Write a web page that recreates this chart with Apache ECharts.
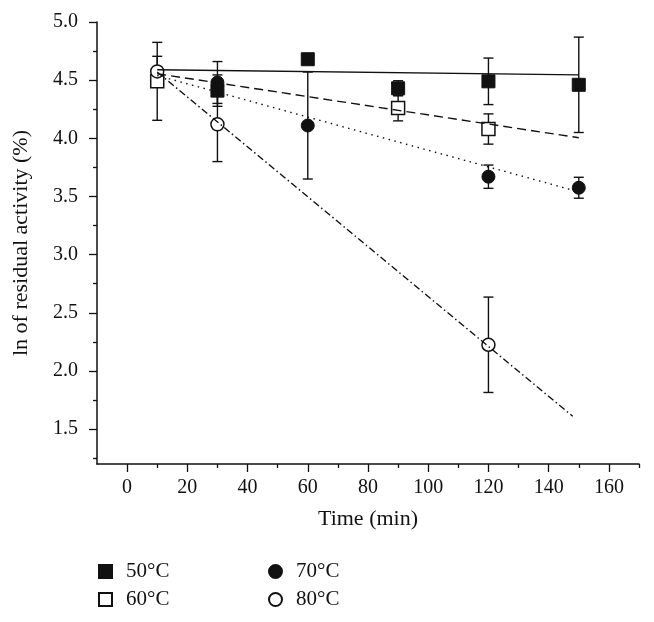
<!DOCTYPE html>
<html>
<head>
<meta charset="utf-8">
<script src="https://cdn.jsdelivr.net/npm/echarts@6/dist/echarts.min.js"></script>
<style>
html,body{margin:0;padding:0;background:#fff;}
#chart{width:654px;height:622px;}
</style>
</head>
<body>
<div id="chart"></div>
<script>
// ---- data ----
const seriesNames = ['50°C', '60°C', '70°C', '80°C'];
// [time, ln residual activity, error]
const data50 = [[30, 4.41, 0.135], [60, 4.68, 0], [90, 4.43, 0.065], [120, 4.49, 0.20], [150, 4.46, 0.41]];
const data60 = [[10, 4.49, 0.335], [90, 4.26, 0.11], [120, 4.08, 0.13]];
const data70 = [[30, 4.48, 0.18], [60, 4.11, 0.46], [120, 3.67, 0.10], [150, 3.575, 0.09]];
const data80 = [[10, 4.575, 0.13], [30, 4.12, 0.32], [120, 2.225, 0.41]];
// linear fit end points
const fit50 = [[10, 4.59], [150, 4.545]];
const fit60 = [[10, 4.555], [150, 4.005]];
const fit70 = [[10, 4.54], [150, 3.54]];
const fit80 = [[10, 4.57], [148, 1.61]];
// ticks
const xMajorTicks = [0, 20, 40, 60, 80, 100, 120, 140, 160];
const xMinorTicks = [10, 30, 50, 70, 90, 110, 130, 150, 170];
const yMajorTicks = [1.5, 2.0, 2.5, 3.0, 3.5, 4.0, 4.5, 5.0];
const yMinorTicks = [1.25, 1.75, 2.25, 2.75, 3.25, 3.75, 4.25, 4.75];

const FONT = 'Liberation Serif';
const INK = '#111111';

const chart = echarts.init(document.getElementById('chart'));

function errorBarSeries(data) {
  return {
    type: 'custom',
    xAxisIndex: 0, yAxisIndex: 0,
    z: 2,
    silent: true,
    data: data,
    renderItem: function (params, api) {
      const x = api.value(0), y = api.value(1), e = api.value(2);
      if (!e) return null;
      const t = api.coord([x, y + e]);
      const b = api.coord([x, y - e]);
      const hw = 5;
      const st = { stroke: INK, lineWidth: 1.4 };
      return {
        type: 'group',
        children: [
          { type: 'line', shape: { x1: t[0], y1: t[1], x2: b[0], y2: b[1] }, style: st },
          { type: 'line', shape: { x1: t[0] - hw, y1: t[1], x2: t[0] + hw, y2: t[1] }, style: st },
          { type: 'line', shape: { x1: b[0] - hw, y1: b[1], x2: b[0] + hw, y2: b[1] }, style: st }
        ]
      };
    }
  };
}

function scatterSeries(name, data, symbol, filled) {
  return {
    type: 'scatter',
    name: name,
    xAxisIndex: 0, yAxisIndex: 0,
    z: 3,
    symbol: symbol,
    symbolSize: 13,
    data: data.map(d => [d[0], d[1]]),
    itemStyle: filled
      ? { color: INK, borderColor: INK, borderWidth: 1, opacity: 1 }
      : { color: '#ffffff', borderColor: INK, borderWidth: 1.5, opacity: 1 }
  };
}

function fitSeries(name, data, type) {
  return {
    type: 'line',
    name: name,
    xAxisIndex: 0, yAxisIndex: 0,
    z: 4,
    data: data,
    symbol: 'none',
    silent: true,
    lineStyle: { color: INK, width: 1.4, type: type }
  };
}

const legendText = { fontFamily: FONT, fontSize: 21, color: INK, padding: [0, 0, 0, 9] };

const option = {
  backgroundColor: '#ffffff',
  animation: false,
  textStyle: { fontFamily: FONT },
  grid: { left: 97, right: 15, top: 22, bottom: 158 },
  xAxis: [
    {
      type: 'value', min: -10, max: 170,
      name: 'Time (min)', nameLocation: 'middle', nameGap: 44,
      nameTextStyle: { fontFamily: FONT, fontSize: 22, color: INK },
      axisLine: { show: true, onZero: false, lineStyle: { color: INK, width: 1.5 } },
      axisTick: { show: true, inside: false, length: 8, customValues: xMajorTicks, lineStyle: { color: INK, width: 1.3 } },
      axisLabel: { show: true, margin: 14, customValues: xMajorTicks, fontFamily: FONT, fontSize: 20, color: INK },
      splitLine: { show: false }
    },
    {
      type: 'value', min: -10, max: 170, position: 'bottom',
      axisLine: { show: false, onZero: false },
      axisTick: { show: true, inside: false, length: 4, customValues: xMinorTicks, lineStyle: { color: INK, width: 1.3 } },
      axisLabel: { show: false },
      splitLine: { show: false }
    }
  ],
  yAxis: [
    {
      type: 'value', min: 1.2, max: 5.0,
      name: 'ln of residual activity (%)', nameLocation: 'middle', nameGap: 65,
      nameTextStyle: { fontFamily: FONT, fontSize: 22, color: INK },
      axisLine: { show: true, onZero: false, lineStyle: { color: INK, width: 1.5 } },
      axisTick: { show: true, inside: false, length: 8, customValues: yMajorTicks, lineStyle: { color: INK, width: 1.3 } },
      axisLabel: { show: true, margin: 19, customValues: yMajorTicks, fontFamily: FONT, fontSize: 20, color: INK,
        formatter: v => Number(v).toFixed(1) },
      splitLine: { show: false }
    },
    {
      type: 'value', min: 1.2, max: 5.0, position: 'left',
      axisLine: { show: false, onZero: false },
      axisTick: { show: true, inside: false, length: 4, customValues: yMinorTicks, lineStyle: { color: INK, width: 1.3 } },
      axisLabel: { show: false },
      splitLine: { show: false }
    }
  ],
  legend: [
    {
      orient: 'vertical', left: 98, top: 561, padding: 0,
      itemWidth: 13, itemHeight: 13, itemGap: 7,
      textStyle: legendText,
      selectedMode: false,
      data: [seriesNames[0], seriesNames[1]]
    },
    {
      orient: 'vertical', left: 268, top: 561, padding: 0,
      itemWidth: 13, itemHeight: 13, itemGap: 7,
      textStyle: legendText,
      selectedMode: false,
      data: [seriesNames[2], seriesNames[3]]
    }
  ],
  series: [
    errorBarSeries(data50),
    errorBarSeries(data60),
    errorBarSeries(data70),
    errorBarSeries(data80),
    scatterSeries(seriesNames[0], data50, 'rect', true),
    scatterSeries(seriesNames[1], data60, 'rect', false),
    scatterSeries(seriesNames[2], data70, 'circle', true),
    scatterSeries(seriesNames[3], data80, 'circle', false),
    fitSeries('fit50', fit50, 'solid'),
    fitSeries('fit60', fit60, [9, 5]),
    fitSeries('fit70', fit70, [1.5, 4.5]),
    fitSeries('fit80', fit80, [7, 3, 1.5, 3])
  ]
};
chart.setOption(option);
</script>
</body>
</html>
